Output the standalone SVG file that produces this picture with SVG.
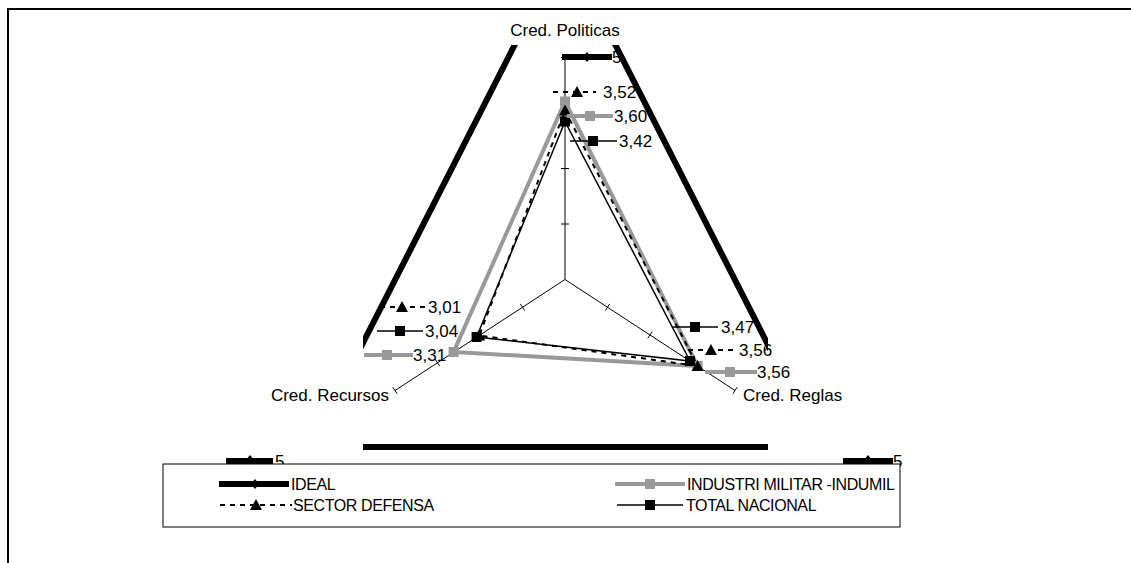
<svg xmlns="http://www.w3.org/2000/svg" width="1131" height="563" viewBox="0 0 1131 563">
<defs>
<style>
text{font-family:"Liberation Sans",Arial,sans-serif;fill:#000}
.lbl{font-size:17px}
.leg{font-size:16px;letter-spacing:-0.4px}
.axis{stroke:#000;stroke-width:1;fill:none}
.ideal{stroke:#000;stroke-width:6;fill:none}
.ind{stroke:#999;stroke-width:4;fill:none}
.def{stroke:#000;stroke-width:2;stroke-dasharray:5 5;fill:none}
.tot{stroke:#000;stroke-width:1.5;fill:none}
</style>
<clipPath id="plot"><rect x="363" y="45" width="405" height="415"/></clipPath>
<rect id="sqG" x="-5" y="-5" width="10" height="10" fill="#999"/>
<rect id="sqB" x="-5" y="-5" width="10" height="10" fill="#000"/>
<polygon id="tri" points="0,-6 6,5 -6,5" fill="#000"/>
<polygon id="dia" points="0,-5 4,0 0,5 -4,0" fill="#000"/>
</defs>
<rect x="8" y="9" width="1140" height="600" fill="#fff" stroke="#000" stroke-width="2"/>

<g id="axes">
<line class="axis" x1="565" y1="279.5" x2="565" y2="57.5"/>
<line class="axis" x1="565" y1="279.5" x2="735" y2="390.5"/>
<line class="axis" x1="565" y1="279.5" x2="395" y2="390.5"/>
<path class="axis" d="M561 224H569M561 168.5H569M561 113H569M561 57.5H569"/>
<path class="axis" d="M605.3 310.6L609.7 303.9M647.8 338.3L652.2 331.7M690.3 366.1L694.7 359.4M732.8 393.8L737.2 387.2"/>
<path class="axis" d="M524.7 310.6L520.3 303.9M482.2 338.3L477.8 331.7M439.7 366.1L435.3 359.4M397.2 393.8L392.8 387.2"/>
</g>

<g id="series" clip-path="url(#plot)">
<polygon class="ideal" points="565,-54 820,447 310,447"/>
<polygon class="ind" points="565,101.5 697.6,366 453.6,352"/>
<polygon class="def" points="565,110.5 697.6,366 479.2,335.5"/>
<polygon class="tot" points="565,121.5 690,361 476.6,337"/>
<use href="#sqG" x="565" y="101.5"/><use href="#sqG" x="697.6" y="366"/><use href="#sqG" x="453.6" y="352"/>
<use href="#tri" x="565" y="110.5"/><use href="#tri" x="697.6" y="366"/><use href="#tri" x="479.2" y="335.5"/>
<use href="#sqB" x="565" y="121.5"/><use href="#sqB" x="690" y="361"/><use href="#sqB" x="476.6" y="337"/>
</g>

<g id="axis-labels" class="lbl">
<text x="565" y="36" text-anchor="middle">Cred. Politicas</text>
<text x="743" y="401">Cred. Reglas</text>
<text x="389" y="401" text-anchor="end">Cred. Recursos</text>
</g>

<g id="data-labels" class="lbl">
<line class="def" x1="553" y1="92" x2="596" y2="92"/><use href="#tri" x="577" y="92"/><text x="603" y="98">3,52</text>
<line class="ind" x1="567" y1="116" x2="613" y2="116"/><use href="#sqG" x="590" y="116"/><text x="614" y="122">3,60</text>
<line class="tot" x1="570" y1="141" x2="617" y2="141"/><use href="#sqB" x="593" y="141"/><text x="619" y="147">3,42</text>
<line class="tot" x1="673" y1="327" x2="718" y2="327"/><use href="#sqB" x="695" y="327"/><text x="721" y="333">3,47</text>
<line class="def" x1="688" y1="350" x2="733" y2="350"/><use href="#tri" x="711" y="350"/><text x="739" y="356">3,56</text>
<line class="ind" x1="705" y1="372" x2="757" y2="372"/><use href="#sqG" x="730" y="372"/><text x="757" y="378">3,56</text>
<line class="def" x1="380" y1="307" x2="425" y2="307"/><use href="#tri" x="402" y="307"/><text x="428" y="313">3,01</text>
<line class="tot" x1="377" y1="331" x2="423" y2="331"/><use href="#sqB" x="400" y="331"/><text x="425" y="337">3,04</text>
<line class="ind" x1="364" y1="355" x2="413" y2="355"/><use href="#sqG" x="387" y="355"/><text x="413" y="361">3,31</text>
<line class="ideal" x1="562" y1="57" x2="612" y2="57"/><use href="#dia" x="587" y="57"/><text x="612" y="63">5</text>
<line class="ideal" x1="226" y1="461" x2="273" y2="461"/><use href="#dia" x="250" y="460"/><text x="275" y="467">5</text>
<line class="ideal" x1="843" y1="461" x2="893" y2="461"/><use href="#dia" x="868" y="460"/><text x="893" y="467">5</text>
</g>

<g id="legend">
<rect x="163" y="464" width="737" height="63" fill="#fff" stroke="#000" stroke-width="1"/>
<g id="leg-ideal"><line class="ideal" x1="219" y1="484" x2="289" y2="484"/><use href="#dia" x="255" y="484"/><text class="leg" x="291" y="489.5">IDEAL</text></g>
<g id="leg-ind"><line class="ind" x1="615" y1="484" x2="685" y2="484"/><use href="#sqG" x="650" y="484"/><text class="leg" x="687" y="489.5">INDUSTRI MILITAR -INDUMIL</text></g>
<g id="leg-def"><line class="def" x1="220" y1="505" x2="292" y2="505"/><use href="#tri" x="256" y="505"/><text class="leg" x="293" y="510.5">SECTOR DEFENSA</text></g>
<g id="leg-tot"><line class="tot" x1="617" y1="505" x2="683" y2="505"/><use href="#sqB" x="650" y="505"/><text class="leg" x="686" y="510.5">TOTAL NACIONAL</text></g>
</g>
</svg>
